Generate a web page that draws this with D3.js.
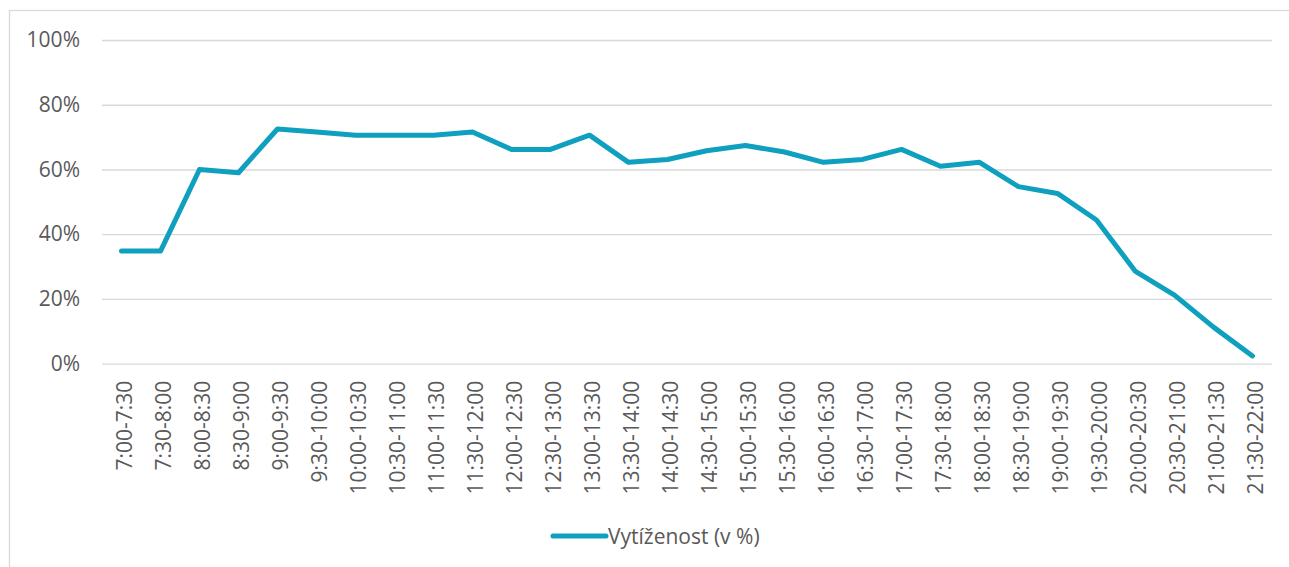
<!DOCTYPE html>
<html>
<head>
<meta charset="utf-8">
<script src="https://cdn.jsdelivr.net/npm/d3@7"></script>
<style>
  body { margin: 0; background: #fff; }
  text { font-family: "Open Sans", "Noto Sans", sans-serif; fill: #595959; }
</style>
</head>
<body>
<script>
// time slots on the x axis
var slots = ['7:00-7:30', '7:30-8:00', '8:00-8:30', '8:30-9:00', '9:00-9:30',
    '9:30-10:00', '10:00-10:30', '10:30-11:00', '11:00-11:30', '11:30-12:00',
    '12:00-12:30', '12:30-13:00', '13:00-13:30', '13:30-14:00', '14:00-14:30',
    '14:30-15:00', '15:00-15:30', '15:30-16:00', '16:00-16:30', '16:30-17:00',
    '17:00-17:30', '17:30-18:00', '18:00-18:30', '18:30-19:00', '19:00-19:30',
    '19:30-20:00', '20:00-20:30', '20:30-21:00', '21:00-21:30', '21:30-22:00'];

// utilisation in percent
var usage = [34.8, 34.8, 60, 59, 72.5, 71.6, 70.6, 70.6, 70.6, 71.6,
    66.2, 66.2, 70.6, 62.2, 63.1, 65.8, 67.4, 65.4, 62.2, 63.1,
    66.2, 61, 62.2, 54.7, 52.6, 44.4, 28.5, 21.2, 11.3, 2.4];

var yTicks = [0, 20, 40, 60, 80, 100];
var seriesName = 'Vytíženost (v %)';

var width = 1289,
    height = 567;

var color = '#0f9fbf';

var svg = d3.select('body')
    .append('svg')
    .attr('width', width)
    .attr('height', height);

// chart frame (right and bottom edges fall outside the picture)
svg.append('rect')
    .attr('x', 9.5)
    .attr('y', 10.5)
    .attr('width', width + 10)
    .attr('height', height + 10)
    .attr('fill', '#fff')
    .attr('stroke', '#d9d9d9')
    .attr('stroke-width', 1.3);

var x = d3.scalePoint()
    .domain(slots)
    .range([102, 1272])
    .padding(0.5);

var y = d3.scaleLinear()
    .domain([0, 100])
    .range([363.7, 40]);

// y axis with gridlines
var yAxis = svg.append('g')
    .attr('transform', 'translate(102,0)')
    .call(d3.axisLeft(y)
        .tickValues(yTicks)
        .tickSize(-1170)
        .tickPadding(22)
        .tickFormat(function(d) { return d + '%'; }));

yAxis.select('.domain').remove();
yAxis.selectAll('line')
    .attr('stroke', '#d9d9d9')
    .attr('stroke-width', 1.3);
yAxis.selectAll('text')
    .attr('font-size', 21)
    .attr('fill', '#595959');

// category labels, turned on their side
var xAxis = svg.append('g')
    .attr('transform', 'translate(0,363.7)')
    .call(d3.axisBottom(x).tickSize(0));

xAxis.select('.domain').remove();
xAxis.selectAll('text')
    .attr('font-size', 21)
    .attr('fill', '#595959')
    .attr('text-anchor', 'end')
    .attr('transform', 'translate(2,17) rotate(-90)')
    .attr('x', 0)
    .attr('y', 0)
    .attr('dy', '0.36em');

// the line itself
var line = d3.line()
    .x(function(d, i) { return x(slots[i]); })
    .y(function(d) { return y(d); });

svg.append('path')
    .datum(usage)
    .attr('d', line)
    .attr('fill', 'none')
    .attr('stroke', color)
    .attr('stroke-width', 5)
    .attr('stroke-linejoin', 'round')
    .attr('stroke-linecap', 'round');

// legend
var legend = svg.append('g')
    .attr('transform', 'translate(551,536)');

legend.append('line')
    .attr('x1', 2)
    .attr('x2', 55)
    .attr('stroke', color)
    .attr('stroke-width', 5)
    .attr('stroke-linecap', 'round');

legend.append('text')
    .attr('x', 57)
    .attr('dy', '0.36em')
    .attr('font-size', 21)
    .text(seriesName);
</script>
</body>
</html>
